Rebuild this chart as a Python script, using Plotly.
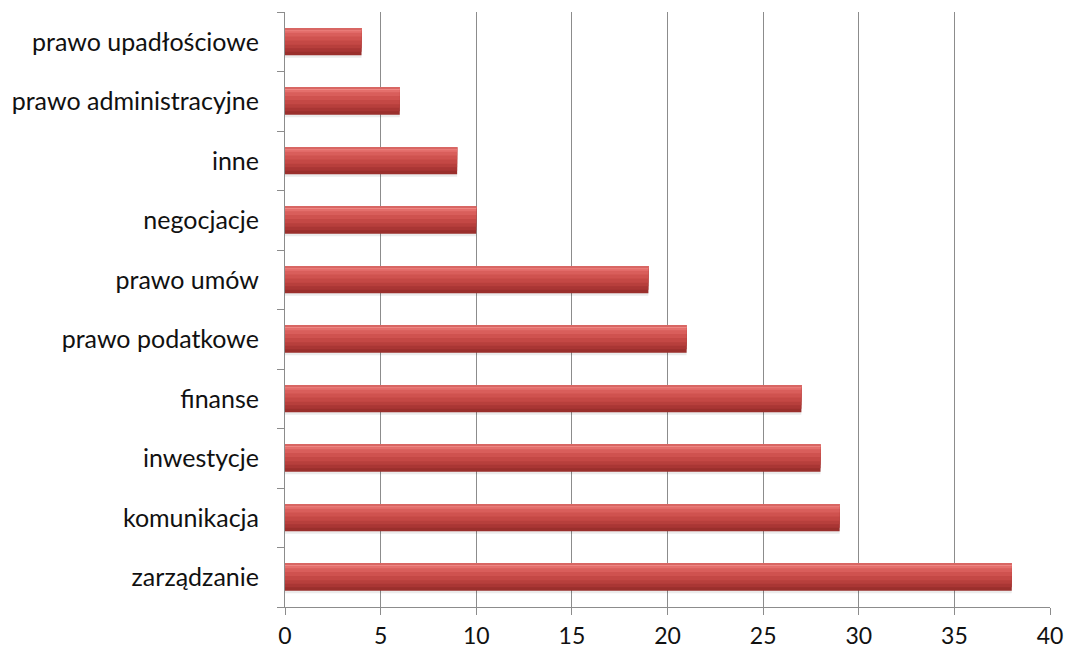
import plotly.graph_objects as go

categories = ["zarządzanie", "komunikacja", "inwestycje", "finanse", "prawo podatkowe",
              "prawo umów", "negocjacje", "inne", "prawo administracyjne", "prawo upadłościowe"]
values = [38, 29, 28, 27, 21, 19, 10, 9, 6, 4]
x_ticks = [0, 5, 10, 15, 20, 25, 30, 35, 40]

fig = go.Figure()

BAR_TOP = 0.225
# shadow
fig.add_trace(go.Bar(y=categories, x=values, orientation="h", width=0.47, offset=-0.27,
                     marker=dict(color="rgba(0,0,0,0.08)", line=dict(width=0)),
                     hoverinfo="skip", showlegend=False))
# gradient layers: each extends from its start up to the bar top (drawn bottom -> top)
layers = [
    (-0.225, "#9A2F2C"),
    (-0.17, "#A93634"),
    (-0.11, "#B73F3C"),
    (-0.05, "#C44845"),
    (0.02, "#CF524F"),
    (0.09, "#D95E5B"),
    (0.15, "#E46F6C"),
    (0.19, "#EE8783"),
    (0.212, "#D86663"),
]
for off, col in layers:
    fig.add_trace(go.Bar(y=categories, x=values, orientation="h", width=BAR_TOP - off, offset=off,
                         marker=dict(color=col, line=dict(width=0)),
                         hoverinfo="skip", showlegend=False))

fig.update_layout(
    barmode="overlay",
    width=1069, height=653,
    margin=dict(l=285, r=19, t=12, b=46),
    paper_bgcolor="white", plot_bgcolor="white",
    font=dict(family="Lato, Open Sans, sans-serif", size=25, color="#111111"),
    showlegend=False,
)
fig.update_xaxes(range=[0, 40], tickvals=x_ticks, ticktext=[str(t) for t in x_ticks],
                 tickfont=dict(size=23),
                 showgrid=True, gridcolor="#8C8C8C", gridwidth=1,
                 showline=True, linecolor="#8C8C8C", linewidth=1,
                 ticks="outside", ticklen=7, tickcolor="#8C8C8C",
                 ticklabelstandoff=1, zeroline=False, fixedrange=True, automargin=False)
fig.update_yaxes(categoryorder="array", categoryarray=categories,
                 showline=True, linecolor="#8C8C8C", linewidth=1,
                 ticks="outside", ticklen=7, tickcolor="#8C8C8C", tickson="boundaries",
                 ticklabelstandoff=20, showgrid=False, fixedrange=True, automargin=False)

fig.write_html("out.html")
